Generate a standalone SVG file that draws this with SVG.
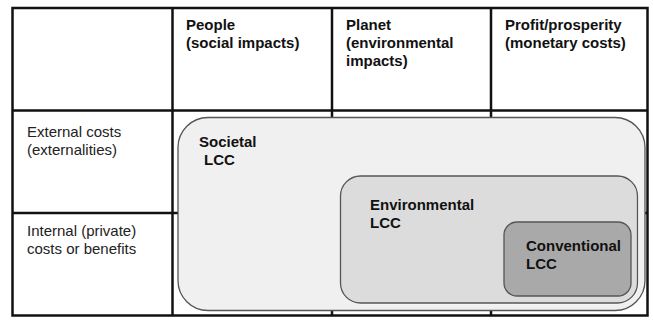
<svg xmlns="http://www.w3.org/2000/svg" width="653" height="320" viewBox="0 0 653 320">
<style>
.grid{stroke:#111;stroke-width:2.5;fill:none}
.hd{font-family:"Liberation Sans",Arial,sans-serif;font-size:15px;font-weight:bold;fill:#111}
.rw{font-family:"Liberation Sans",Arial,sans-serif;font-size:15px;fill:#222}
.lb{font-family:"Liberation Sans",Arial,sans-serif;font-size:15px;font-weight:bold;fill:#111}
.box{stroke:#555;stroke-width:1.3}
</style>
<rect width="653" height="320" fill="#fff"/>
<g id="table">
<rect class="grid" x="12.5" y="8" width="635" height="307.5"/>
<line class="grid" x1="172.5" y1="8" x2="172.5" y2="315.5"/>
<line class="grid" x1="332" y1="8" x2="332" y2="315.5"/>
<line class="grid" x1="491" y1="8" x2="491" y2="315.5"/>
<line class="grid" x1="12.5" y1="110.5" x2="647.5" y2="110.5"/>
<line class="grid" x1="12.5" y1="213" x2="647.5" y2="213"/>
</g>
<g id="headers">
<text class="hd" x="186" y="30">People<tspan x="186" y="48">(social impacts)</tspan></text>
<text class="hd" x="346" y="30">Planet<tspan x="346" y="48">(environmental</tspan><tspan x="346" y="66">impacts)</tspan></text>
<text class="hd" x="505" y="30">Profit/prosperity<tspan x="505" y="48">(monetary costs)</tspan></text>
<text class="rw" x="27" y="137">External costs<tspan x="27" y="155">(externalities)</tspan></text>
<text class="rw" x="27" y="236">Internal (private)<tspan x="27" y="254">costs or benefits</tspan></text>
</g>
<g id="societal">
<rect class="box" x="178" y="117.5" width="467" height="193" rx="30" ry="30" fill="#f0f0f0"/>
<text class="lb" x="199" y="147">Societal<tspan x="204" y="165">LCC</tspan></text>
</g>
<g id="environmental">
<rect x="341.5" y="177" width="297" height="127" rx="20" ry="20" fill="none" stroke="#fafafa" stroke-width="1"/>
<rect class="box" x="340.5" y="176" width="297" height="127" rx="20" ry="20" fill="#dcdcdc"/>
<text class="lb" x="370" y="210">Environmental<tspan x="370" y="228">LCC</tspan></text>
</g>
<g id="conventional">
<rect class="box" x="504" y="222" width="127" height="74" rx="13" ry="13" fill="#a9a9a9"/>
<text class="lb" x="526" y="251">Conventional<tspan x="526" y="269">LCC</tspan></text>
</g>
<g id="connectors"/>
</svg>
